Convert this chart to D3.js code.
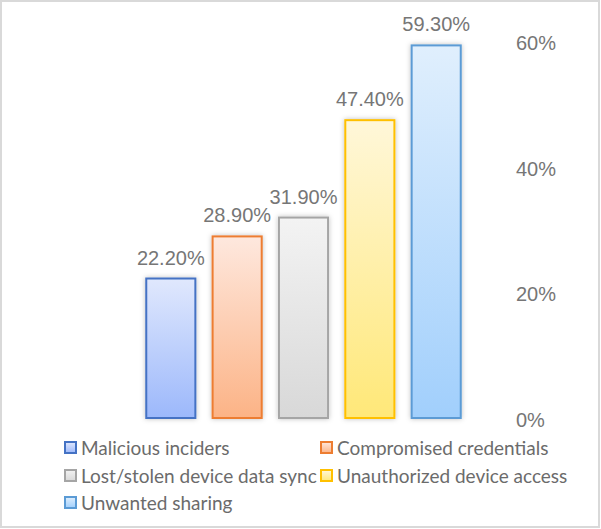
<!DOCTYPE html>
<html><head><meta charset="utf-8">
<script src="https://cdn.jsdelivr.net/npm/d3@7"></script>
<style>body{margin:0;background:#fff}svg{display:block}</style>
</head><body>
<svg id="c" width="601" height="529"></svg>
<script>
const categories = ["Malicious inciders","Compromised credentials","Lost/stolen device data sync","Unauthorized device access","Unwanted sharing"];
const values = [22.2, 28.9, 31.9, 47.4, 59.3];
const tickValues = [0, 20, 40, 60];
const strokes = ["#4472c4","#ed7d31","#a5a5a5","#ffc000","#5b9bd5"];
const topCols = ["#e0e8fd","#fee8de","#f3f3f3","#fff7d9","#e0effd"];
const botCols = ["#9cb8fb","#fcb386","#d8d8d8","#ffe878","#a1cffc"];

const svg = d3.select("#c");
svg.append("rect").attr("x",1).attr("y",1).attr("width",598).attr("height",526)
  .attr("fill","#fff").attr("stroke","#d9d9d9").attr("stroke-width",2);

const defs = svg.append("defs");
categories.forEach((c,i)=>{
  const g = defs.append("linearGradient").attr("id","g"+i).attr("x1",0).attr("y1",0).attr("x2",0).attr("y2",1);
  g.append("stop").attr("offset","0%").attr("stop-color",topCols[i]);
  g.append("stop").attr("offset","100%").attr("stop-color",botCols[i]);
});
const f = defs.append("filter").attr("id","sh").attr("x","-30%").attr("y","-10%").attr("width","160%").attr("height","120%");
f.append("feDropShadow").attr("dx",0).attr("dy",0).attr("stdDeviation",2.5).attr("flood-color","#000").attr("flood-opacity",0.25);

const x = d3.scaleBand().domain(categories).range([131,476]).paddingInner(0.26).paddingOuter(0.23);
const y = d3.scaleLinear().domain([0,60]).range([418,41]);

svg.selectAll("rect.bar").data(values).join("rect").attr("class","bar")
  .attr("x",(d,i)=>x(categories[i])).attr("width",x.bandwidth())
  .attr("y",d=>y(d)).attr("height",d=>y(0)-y(d))
  .attr("fill",(d,i)=>"url(#g"+i+")").attr("stroke",(d,i)=>strokes[i]).attr("stroke-width",2)
  .attr("filter","url(#sh)");

svg.selectAll("text.val").data(values).join("text").attr("class","val")
  .attr("x",(d,i)=>x(categories[i])+x.bandwidth()/2).attr("y",d=>y(d)-14)
  .attr("text-anchor","middle").attr("font-family","Liberation Sans, Arial, sans-serif")
  .attr("font-size",20).attr("fill","#767676").text(d=>d.toFixed(2)+"%");

const axis = d3.axisRight(y).tickValues(tickValues).tickSize(0).tickPadding(0).tickFormat(d=>d+"%");
const ag = svg.append("g").attr("transform","translate(516,2)").call(axis);
ag.select(".domain").remove();
ag.selectAll("text").attr("font-family","Liberation Sans, Arial, sans-serif").attr("font-size",20).attr("fill","#767676");

const legPos = [[64,448],[320,448],[64,476],[320,476],[64,503]];
const lg = svg.append("g");
categories.forEach((c,i)=>{
  const [lx,ly] = legPos[i];
  lg.append("rect").attr("x",lx+1).attr("y",ly-6).attr("width",11).attr("height",11)
    .attr("fill","url(#g"+i+")").attr("stroke",strokes[i]).attr("stroke-width",2);
  lg.append("text").attr("x",lx+17).attr("y",ly).attr("dy","0.35em")
    .attr("font-family","Lato, sans-serif").attr("font-size",19).attr("fill","#6b6b6b").text(c);
});
</script>
</body></html>
